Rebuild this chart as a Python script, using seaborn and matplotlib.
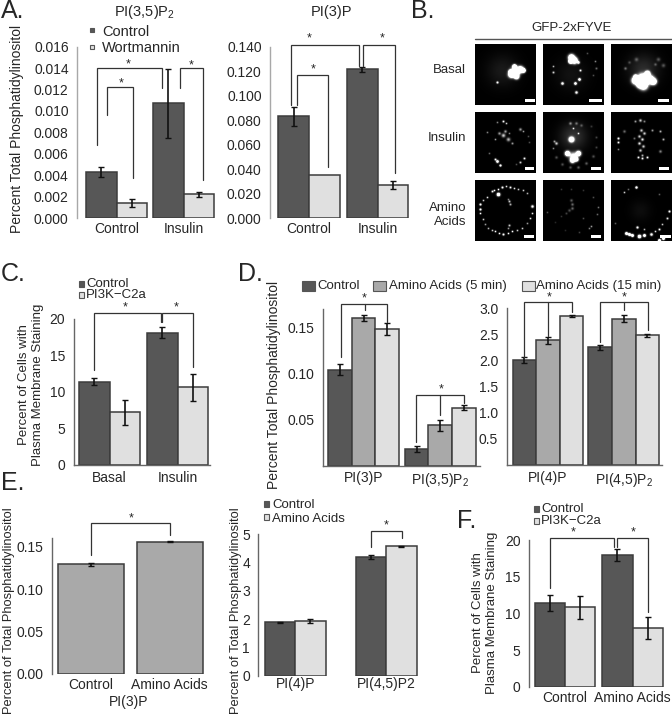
import matplotlib
matplotlib.use('Agg')
import matplotlib.pyplot as plt
import numpy as np
import pandas as pd
import seaborn as sns
from matplotlib.patches import Rectangle

W, H = 672, 719
DARK = '#575757'
MID = '#a9a9a9'
LIGHT = '#e0e0e0'
EDGE = '#3c3c3c'
TXT = '#262626'

# panel A
a_groups = ['Control', 'Insulin']
a_series = ['Control', 'Wortmannin']
a1_vals = [0.0043, 0.0014, 0.0107, 0.0022]
a1_errs = [0.0005, 0.0004, 0.0032, 0.0002]
a2_vals = [0.083, 0.035, 0.1215, 0.027]
a2_errs = [0.008, 0.0, 0.002, 0.0035]
a1_ticks = [0.0, 0.002, 0.004, 0.006, 0.008, 0.010, 0.012, 0.014, 0.016]
a2_ticks = [0.0, 0.02, 0.04, 0.06, 0.08, 0.10, 0.12, 0.14]

# panel C
c_groups = ['Basal', 'Insulin']
c_series = ['Control', 'PI3K-C2a']
c_vals = [11.4, 7.2, 18.1, 10.6]
c_errs = [0.5, 1.7, 0.7, 1.9]

# panel D
d_series = ['Control', 'Amino Acids (5 min)', 'Amino Acids (15 min)']
d1_groups = ['PI(3)P', 'PI(3,5)P$_2$']
d1_vals = [0.104, 0.160, 0.148, 0.018, 0.044, 0.063]
d1_errs = [0.006, 0.003, 0.006, 0.003, 0.006, 0.003]
d2_groups = ['PI(4)P', 'PI(4,5)P$_2$']
d2_vals = [2.01, 2.39, 2.85, 2.25, 2.80, 2.48]
d2_errs = [0.05, 0.07, 0.02, 0.05, 0.07, 0.02]

# panel E
e1_groups = ['Control', 'Amino Acids']
e1_vals = [0.129, 0.156]
e1_errs = [0.002, 0.001]
e2_groups = ['PI(4)P', 'PI(4,5)P2']
e2_series = ['Control', 'Amino Acids']
e2_vals = [1.89, 1.94, 4.19, 4.58]
e2_errs = [0.02, 0.06, 0.08, 0.02]

# panel F
f_groups = ['Control', 'Amino Acids']
f_vals = [11.4, 10.8, 18.0, 8.0]
f_errs = [1.1, 1.6, 0.8, 1.5]

# micrograph spots, x, y, radius, brightness in pixels of a cell
cell_spots = [
    [(27, 26, 17, .10), (40, 27, 4, 3), (36, 30, 3, 3), (45, 25, 3, 3), (39, 22, 2, 3), (41, 32, 2.5, 3), (35, 27, 2, 2), (48, 26, 2, 3), (22, 38, 1.2, 1.2)],
    [(28, 30, 17, .07), (28, 13, 3, 3), (31, 16, 3, 3), (27, 17, 2, 3), (35, 18, 1.5, 1.2), (10, 22, 1, .7), (10, 28, 1.2, .8), (37, 26, 1.2, 1),
     (19, 39, 1.5, 1.3), (32, 39, 1.5, 1.5), (36, 35, 1.5, 1.5), (33, 48, 1.5, 1.2), (44, 9, 1, .3), (52, 17, 1, .5), (53, 24, 1.2, .4), (50, 31, 1, .3)],
    [(32, 25, 16, .17), (24, 36, 3.5, 3), (31, 34, 4.5, 3), (38, 35, 4, 3), (42, 37, 3, 3), (32, 41, 4, 3), (28, 40, 3, 3), (36, 29, 2.5, 3), (24, 32, 2, 2),
     (14, 24, 1.5, .4), (25, 15, 2, .3), (47, 15, 2, .3), (52, 21, 2, .3), (44, 20, 1.5, .3), (18, 18, 1.5, .25)],
    [(28, 9, 1.2, 1), (31, 11, 1, .8), (22, 10, 1, .5), (45, 17, 1.5, .6), (48, 19, 1, .6), (28, 23, 2, .8), (33, 27, 2, .7), (24, 21, 1.5, .6), (30, 19, 1.5, .6),
     (37, 31, 1.2, .6), (34, 21, 1, .5), (12, 20, 1, .5), (20, 27, 1, .6), (22, 49, 1.5, 1.5), (25, 53, 1.2, 1.5), (20, 47, 1.2, 1), (49, 46, 1.2, 1), (45, 50, 1.2, .8),
     (14, 41, 1, .4), (54, 30, 1, .3), (53, 24, 1, .3), (41, 52, 1, .3)],
    [(30, 24, 14, .2), (28, 27, 2.5, 3), (30, 44, 4, 1.5), (24, 41, 2.5, 2.5), (35, 41, 2.5, 2.5), (29, 48, 2.5, 2), (33, 47, 2, 2), (30, 16, 1, .8), (35, 21, 1, .8),
     (27, 11, 1.5, .5), (33, 11, 1.5, .4), (38, 13, 1.5, .3), (13, 31, 1.5, .8), (11, 29, 1.2, .6), (10, 36, 1, .5), (13, 45, 1.5, .3), (19, 52, 1.5, .3), (27, 55, 1.5, .3),
     (35, 55, 1.5, .35), (43, 51, 1.5, .35), (50, 44, 1.5, .3), (53, 35, 1.2, .25), (53, 25, 1.2, .25), (48, 14, 1.2, .2)],
    [(29, 8, 1.5, .8), (24, 9, 1.2, .6), (33, 9, 1.2, .5), (7, 26, 1.2, 1.2), (7, 30, 1.2, 1), (13, 19, 1.5, .4), (30, 18, 1.5, .8), (33, 21, 1.5, .8), (28, 24, 1.5, .8),
     (31, 27, 1.5, .9), (28, 31, 1.5, .9), (32, 34, 1.5, .8), (29, 38, 1.5, .8), (31, 43, 1.2, .7), (27, 45, 1.2, 1), (36, 45, 1.2, 1), (31, 46, 1.2, 1), (41, 18, 1.2, .6),
     (49, 19, 1.2, .7), (52, 27, 1.2, .7), (49, 39, 1.5, .5), (7, 37, 1, .5), (23, 26, 1.2, .4)],
    [(5, 24, 1.2, 1.3), (5, 29, 1.2, 1.3), (5, 33, 1, 1), (8, 39, 1, .8), (10, 44, 1, .6), (13, 48, 1, .7), (17, 50, 1, .8), (20, 51, 1, 1), (24, 53, 1, 1), (28, 54, 1.2, 1.2),
     (33, 53, 1, 1), (37, 51, 1, 1), (42, 50, 1, .8), (47, 48, 1, .8), (52, 43, 1, .6), (55, 38, 1, .9), (57, 33, 1, .9), (57, 26, 1.5, 1.2), (52, 13, 1, .7), (48, 10, 1, .8),
     (43, 9, 1, .8), (39, 8, 1, .9), (35, 7, 1.2, 1), (31, 6, 1, .9), (27, 7, 1.2, 1.2), (23, 14, 1.8, 2), (23, 9, 1, 1), (19, 10, 1, 1), (17, 11, 1.2, 1), (12, 17, 1, .9), (8, 20, 1, .8),
     (34, 21, 1.2, .8), (35, 24, 1.2, .7), (33, 19, 1, .5), (34, 45, 1.2, .8), (33, 48, 1, .6)],
    [(28, 20, 1.5, .35), (29, 24, 1.5, .4), (29, 28, 1.5, .4), (26, 30, 1.5, .3), (23, 33, 1.2, .25), (18, 36, 1, .2), (4, 32, 1, .3), (18, 9, 1, .2), (28, 9, 1, .2),
     (40, 10, 1, .2), (50, 17, 1, .3), (55, 27, 1, .45), (54, 34, 1, .4), (48, 46, 1, .6), (46, 48, 1, .5), (40, 38, 1, .3), (36, 52, 1, .25), (22, 50, 1, .15), (12, 42, 1, .15)],
    [(25, 7, 1.3, 1.5), (13, 12, 1, .8), (17, 9, 1, .4), (48, 14, 1, .35), (58, 31, 1.2, 1.2), (56, 38, 1.2, .9), (51, 44, 1, .8), (48, 49, 1.2, 1), (40, 54, 1.5, 1.3), (44, 51, 1, .9),
     (15, 53, 1.5, 2), (21, 55, 1.5, 2), (18, 54, 1.5, 2), (28, 56, 1.8, 2), (33, 55, 1.5, 2), (26, 47, 1.3, 1.2), (33, 49, 1, .7), (4, 43, 1, .35), (29, 30, 11, .05),
     (48, 60, 1.5, 2), (52, 58, 1.5, 2)],
]
cell_bars = [(50, 60), (46, 59), (47, 58), (50, 59), (48, 58), (48, 58), (49, 59), (48, 58), (49, 60)]
cell_cols = [475, 543, 611]
cell_rows = [44, 112, 180]
cell_size = 61


def px_axes(fig, left, right, top, bottom):
    return fig.add_axes([left / W, 1 - bottom / H, (right - left) / W, (bottom - top) / H])


def bar_panel(fig, left, right, top, bottom, ymax, groups, series, vals, errs, colors, center, pitch, width,
              ticks, fmt, size, spine='#666666', cap=2.2, base=True, xpad=4):
    ax = px_axes(fig, left, right, top, bottom)
    n = len(series)
    df = pd.DataFrame({'group': np.repeat(groups, n), 'series': list(series) * len(groups), 'value': vals})
    sns.barplot(data=df, x='group', y='value', hue='series', hue_order=series, palette=colors, width=width,
                errorbar=None, saturation=1, edgecolor=EDGE, linewidth=1.1, legend=False, ax=ax)
    for k, cont in enumerate(list(ax.containers)):
        for i, p in enumerate(cont):
            idx = i * n + k
            if errs[idx] > 0:
                ax.errorbar(p.get_x() + p.get_width() / 2, vals[idx], yerr=errs[idx], fmt='none',
                            ecolor='#111111', elinewidth=1.2, capsize=cap, capthick=1.0)
    ax.set_xlim((left - center) / pitch, (right - center) / pitch)
    ax.set_ylim(0, ymax)
    ax.set_yticks(ticks)
    ax.set_yticklabels([format(t, fmt) for t in ticks], fontsize=size, color=TXT)
    ax.tick_params(axis='x', length=0, labelsize=size, labelcolor=TXT, pad=xpad)
    ax.tick_params(axis='y', length=3, color=spine, pad=3)
    ax.set_xlabel('')
    ax.set_ylabel('')
    for s in ['top', 'right']:
        ax.spines[s].set_visible(False)
    ax.spines['bottom'].set_visible(base)
    for s in ['left', 'bottom']:
        ax.spines[s].set_color(spine)
        ax.spines[s].set_linewidth(1.0)
    ax.patch.set_alpha(0)
    return ax


sns.set_theme(style='white')
plt.rcParams['font.family'] = ['Liberation Sans', 'DejaVu Sans']
plt.rcParams['mathtext.default'] = 'regular'

fig = plt.figure(figsize=(W / 100, H / 100), dpi=100)

bar_panel(fig, 77, 218, 46.7, 218, 0.016, a_groups, a_series, a1_vals, a1_errs, [DARK, LIGHT],
          116.7, 67, 0.91, a1_ticks, '.3f', 10, spine='#a8a8a8', base=False, xpad=3)
bar_panel(fig, 270, 412, 46.7, 218, 0.14, a_groups, a_series, a2_vals, a2_errs, [DARK, LIGHT],
          309, 68.7, 0.888, a2_ticks, '.3f', 10, spine='#a8a8a8', base=False, xpad=3)
bar_panel(fig, 73.6, 210, 318.7, 465, 20, c_groups, c_series, c_vals, c_errs, [DARK, LIGHT],
          109.5, 68, 0.89, [0, 5, 10, 15, 20], 'd', 10)
bar_panel(fig, 322.5, 480, 308.7, 465.8, 0.17, d1_groups, d_series, d1_vals, d1_errs, [DARK, MID, LIGHT],
          363.6, 76.6, 0.924, [0.05, 0.10, 0.15], '.2f', 10)
bar_panel(fig, 506.5, 662, 308.3, 465, 3.0, d2_groups, d_series, d2_vals, d2_errs, [DARK, MID, LIGHT],
          548, 75.8, 0.936, [0.5, 1.0, 1.5, 2.0, 2.5, 3.0], '.1f', 10)
bar_panel(fig, 52, 206, 538.2, 673.7, 0.16, e1_groups, ['PI(3)P'], e1_vals, e1_errs, [MID],
          90.9, 78.8, 0.835, [0.0, 0.05, 0.10, 0.15], '.2f', 10, base=False, xpad=3)
bar_panel(fig, 258.4, 420, 534.3, 675.7, 5, e2_groups, e2_series, e2_vals, e2_errs, [DARK, LIGHT],
          295.2, 90.9, 0.67, [0, 1, 2, 3, 4, 5], 'd', 10, base=False, xpad=1)
bar_panel(fig, 529, 668, 540, 686.7, 20, f_groups, c_series, f_vals, f_errs, [DARK, LIGHT],
          565, 67.5, 0.9, [0, 5, 10, 15, 20], 'd', 10, base=False, xpad=3)

# micrographs
yy, xx = np.mgrid[0:cell_size, 0:cell_size]
for i, spots in enumerate(cell_spots):
    left = cell_cols[i % 3]
    top = cell_rows[i // 3]
    ax = px_axes(fig, left, left + cell_size, top, top + cell_size)
    img = np.zeros((cell_size, cell_size))
    for x, y, r, b in spots:
        img += b * np.exp(-((xx - x) ** 2 + (yy - y) ** 2) / (2 * (r * 0.65) ** 2))
    x0, x1 = cell_bars[i]
    img[55:58, x0:x1] = 1
    sns.heatmap(np.clip(img, 0, 1), cmap='gray', vmin=0, vmax=1, cbar=False, xticklabels=False, yticklabels=False, ax=ax)

# overlay in pixel coordinates for labels and brackets
ov = fig.add_axes([0, 0, 1, 1], zorder=10)
ov.set_xlim(0, W)
ov.set_ylim(H, 0)
ov.axis('off')


def label(x, y, s, size=10, ha='center', rot=0, **kw):
    ov.text(x, y, s, fontsize=size, ha=ha, va='center', rotation=rot, color=TXT, linespacing=1.25, **kw)


def bracket(x0, y0, x1, y1, top, mid=None):
    ov.plot([x0, x0, x1, x1], [y0, top, top, y1], color='#333333', lw=0.9, solid_joinstyle='miter')
    if mid is not None:
        ov.plot([mid[0], mid[0]], [top, mid[1]], color='#333333', lw=0.9)


def star(x, y):
    label(x, y + 2, '*', size=9)


def key(x, y, w, h, color):
    ov.add_patch(Rectangle((x - w / 2, y - h / 2), w, h, facecolor=color, edgecolor='#555555', lw=0.8))


# panel letters
for x, y, s in [(1, 11, 'A.'), (411, 11, 'B.'), (1, 274, 'C.'), (238, 274, 'D.'), (1, 483, 'E.'), (457, 521, 'F.')]:
    label(x, y, s, size=18, ha='left')

# A
label(144, 12, 'PI(3,5)P$_2$', size=10.5)
label(331, 12, 'PI(3)P', size=10.5)
label(17, 129, 'Percent Total Phosphatidylinositol', size=10, rot=90)
key(92, 30, 4, 4, DARK)
key(92, 46.5, 4, 4, LIGHT)
label(102, 32, 'Control', size=10.5, ha='left')
label(102, 48, 'Wortmannin', size=10.5, ha='left')
bracket(96.7, 145, 162.3, 88, 67.7)
bracket(107.3, 115, 133.3, 178, 86.7)
bracket(179.7, 88, 203, 180, 67.7)
star(128.3, 62.7)
star(121, 81.7)
star(191, 63.3)
bracket(291, 105, 359, 66, 45)
bracket(297.3, 105, 328.3, 167, 75)
bracket(363.3, 66, 395, 173, 45)
star(309.3, 36.7)
star(312.7, 67.3)
star(382, 36.7)

# B
ov.plot([475, 672], [39, 39], color='#555555', lw=1)
label(572, 28, 'GFP-2xFYVE', size=9.5)
label(466, 70, 'Basal', size=9.5, ha='right')
label(466, 138, 'Insulin', size=9.5, ha='right')
label(466, 215, 'Amino\nAcids', size=9.5, ha='right', multialignment='right')

# C
label(31, 385, 'Percent of Cells with\nPlasma Membrane Staining', size=9.5, rot=90)
key(81, 284, 5, 6, DARK)
key(81, 295, 5, 6, LIGHT)
label(86, 284, 'Control', size=9.5, ha='left')
label(86, 295, 'PI3K\u2212C2a', size=9.5, ha='left')
bracket(94, 370, 161, 321.7, 312.7)
bracket(162.3, 321.7, 192.6, 366.7, 312.7)
star(125.5, 305)
star(176.6, 305)

# D
label(273.6, 385, 'Percent Total Phosphatidylinositol', size=10, rot=90)
key(308, 285.7, 13, 10, DARK)
key(379.5, 285.7, 13, 10, MID)
key(528, 285.7, 13, 10, LIGHT)
label(317, 285.7, 'Control', size=9.5, ha='left')
label(389, 285.7, 'Amino Acids (5 min)', size=9.5, ha='left')
label(536, 285.7, 'Amino Acids (15 min)', size=9.5, ha='left')
bracket(340.7, 356.7, 387.4, 321.7, 304, mid=(364.5, 310))
star(364.5, 296)
bracket(416.4, 441.7, 463.6, 403.3, 395, mid=(440, 415))
star(441, 387.7)
bracket(524.2, 356.7, 571.8, 311.7, 302.3, mid=(548, 336))
star(549, 295)
bracket(600, 341.7, 647.6, 330, 302.3, mid=(623.8, 310))
star(624, 295)

# E
label(8.7, 611, 'Percent of Total Phosphatidylinositol', size=9.3, rot=90)
label(128.6, 702, 'PI(3)P', size=10)
label(236, 611, 'Percent of Total Phosphatidylinositol', size=9.3, rot=90)
key(266, 504, 5, 6, DARK)
key(266, 516.7, 5, 6, LIGHT)
label(272, 505, 'Control', size=9.5, ha='left')
label(272, 519, 'Amino Acids', size=9.5, ha='left')
bracket(90.5, 555, 170, 535, 523.3)
star(130.7, 516.7)
bracket(371, 546.7, 402, 538.3, 530.7)
star(386.6, 523.3)

# F
label(485, 613, 'Percent of Cells with\nPlasma Membrane Staining', size=9.5, rot=90)
key(536, 509, 5, 6, DARK)
key(536, 521, 5, 6, LIGHT)
label(541, 509, 'Control', size=9.5, ha='left')
label(541, 521, 'PI3K\u2212C2a', size=9.5, ha='left')
bracket(549.8, 588.3, 613.9, 546.7, 538.3)
bracket(616.5, 546.7, 648, 611.7, 538.3)
star(572.7, 530)
star(633.3, 530)

fig.savefig('out.png', dpi=100)
